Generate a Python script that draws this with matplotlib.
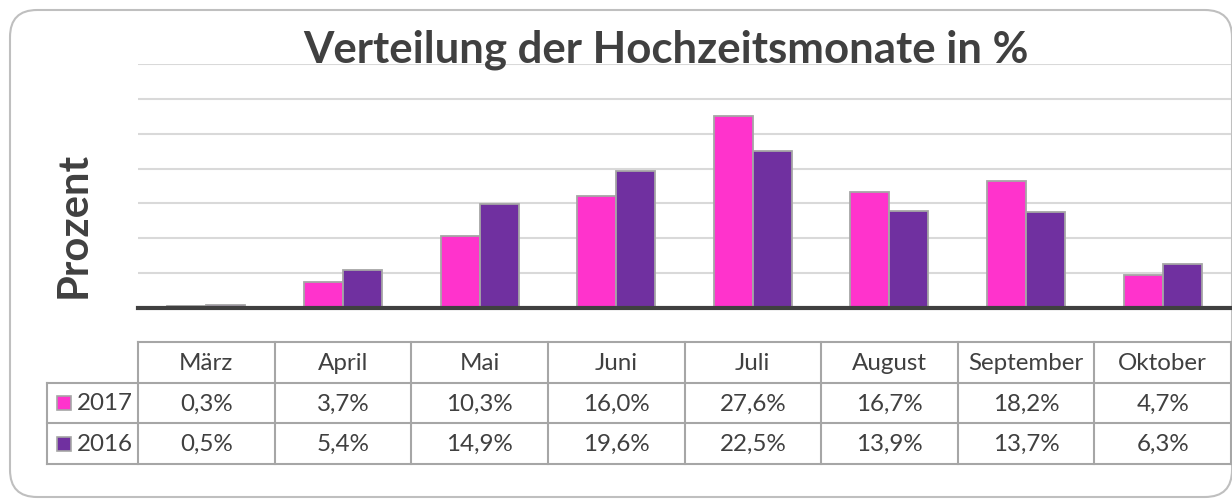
import matplotlib
matplotlib.use('Agg')
import matplotlib.pyplot as plt
from matplotlib.patches import FancyBboxPatch

plt.rcParams['font.family'] = ['Lato', 'DejaVu Sans']

months = ['März', 'April', 'Mai', 'Juni', 'Juli', 'August', 'September', 'Oktober']
years = ['2017', '2016']
values_2017 = [0.3, 3.7, 10.3, 16.0, 27.6, 16.7, 18.2, 4.7]
values_2016 = [0.5, 5.4, 14.9, 19.6, 22.5, 13.9, 13.7, 6.3]
colors = ['#FF33CC', '#7030A0']

W, H = 1232, 502
TXT = '#404040'
GRID = '#d9d9d9'
BORDER = '#a6a6a6'


def fx(px):
    return px / W


def fy(py):
    return 1 - py / H


def pct(v):
    return f'{v:.1f}%'.replace('.', ',')


fig = plt.figure(figsize=(W / 100, H / 100), dpi=100)
renderer = fig.canvas.get_renderer()


def fit_size(s, target_px, weight='normal'):
    # font size that makes string s about target_px wide
    t = fig.text(0, 0, s, fontsize=10, fontweight=weight)
    w = t.get_window_extent(renderer).width
    t.remove()
    return 10 * target_px / w


# rounded outer frame, kept behind the axes
frame = FancyBboxPatch((fx(10), fy(498)), fx(1232) - fx(10), fy(11) - fy(498),
                       boxstyle='round,pad=0,rounding_size=0.022',
                       transform=fig.transFigure, facecolor='white',
                       edgecolor='#bfbfbf', linewidth=1.5, mutation_aspect=W / H,
                       zorder=-1)
fig.patches.append(frame)

x0, x1 = 138, 1231
ax = fig.add_axes([fx(x0), fy(309), fx(x1) - fx(x0), fy(65) - fy(309)])
ax.patch.set_alpha(0)
n = len(months)
x = list(range(n))
bw = 0.285
ax.bar([i - bw / 2 for i in x], values_2017, width=bw, color=colors[0],
       edgecolor=BORDER, linewidth=1.3, zorder=3)
ax.bar([i + bw / 2 for i in x], values_2016, width=bw, color=colors[1],
       edgecolor=BORDER, linewidth=1.3, zorder=3)
ax.set_xlim(-0.5, n - 0.5)
ax.set_ylim(0, 35)
ax.set_yticks(range(5, 36, 5))
ax.yaxis.grid(True, color=GRID, linewidth=1.5)
ax.set_axisbelow(True)
for s in ['top', 'right', 'left']:
    ax.spines[s].set_visible(False)
ax.spines['bottom'].set_color(TXT)
ax.spines['bottom'].set_linewidth(3)
ax.spines['bottom'].set_zorder(4)
ax.tick_params(left=False, bottom=False, labelleft=False, labelbottom=False)

title = 'Verteilung der Hochzeitsmonate in %'
fig.text(fx(666), fy(62), title, ha='center', va='baseline',
         fontsize=fit_size(title, 727, 'bold'), fontweight='bold', color=TXT)
fig.text(fx(74), fy(225), 'Prozent', rotation=90, ha='center', va='center',
         fontsize=fit_size('Prozent', 146, 'bold'), fontweight='bold', color=TXT)

# data table below the chart
at = fig.add_axes([fx(x0), fy(465), fx(x1) - fx(x0), fy(343) - fy(465)])
at.set_xlim(-0.5, n - 0.5)
at.set_ylim(0, 3)
at.axis('off')
unit = (x1 - x0) / n
xl = -0.5 - (x0 - 47) / unit
lk = dict(color=BORDER, linewidth=1.5, clip_on=False)
at.plot([-0.5, n - 0.5], [3, 3], **lk)
for yy in [2, 1, 0]:
    at.plot([xl, n - 0.5], [yy, yy], **lk)
for i in range(n + 1):
    at.plot([i - 0.5, i - 0.5], [0, 3], **lk)
at.plot([xl, xl], [0, 2], **lk)

fs = (fit_size('September', 118) + fit_size('16,7%', 66)) / 2
for i, m in enumerate(months):
    at.text(i, 2.5, m, ha='center', va='center', fontsize=fs, color=TXT)
    at.text(i, 1.5, pct(values_2017[i]), ha='center', va='center', fontsize=fs, color=TXT)
    at.text(i, 0.5, pct(values_2016[i]), ha='center', va='center', fontsize=fs, color=TXT)

for r, (yr, c) in enumerate(zip(years, colors)):
    yy = 1.5 - r
    at.plot([-0.5 - (x0 - 64) / unit], [yy], marker='s', markersize=9.5, color=c,
            markeredgecolor=BORDER, markeredgewidth=1.2, clip_on=False)
    at.text(-0.5 - (x0 - 77) / unit, yy, yr, ha='left', va='center', fontsize=fs, color=TXT)

fig.savefig('out.png', dpi=100)
